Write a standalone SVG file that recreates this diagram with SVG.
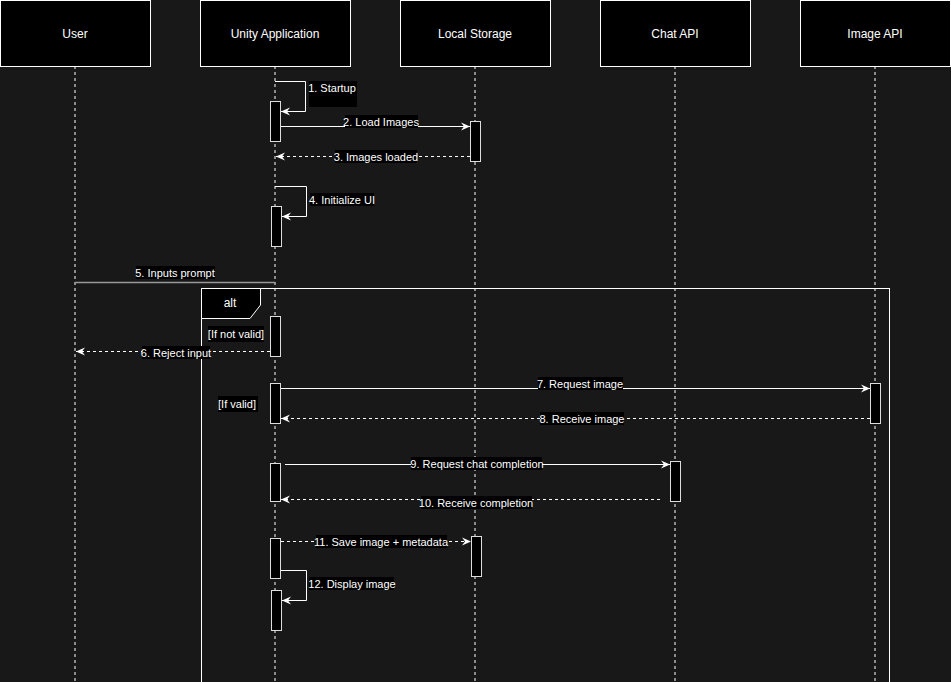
<svg xmlns="http://www.w3.org/2000/svg" width="951" height="682" viewBox="0 0 951 682">
<defs>
<style>
.h{fill:#000;stroke:#fff;stroke-width:1}
.ht{fill:#fff;font-family:"Liberation Sans",Arial,sans-serif;font-size:12px;text-anchor:middle}
.ll{stroke:#fff;stroke-dasharray:3,3;stroke-width:1}
.act{fill:#000;stroke:#ddd;stroke-width:1}
.m{fill:none;stroke:#fff;stroke-width:1;marker-end:url(#a)}
.d{stroke-dasharray:3,3}
.lb{fill:#fff;font-family:"Liberation Sans",Arial,sans-serif;font-size:11px;text-anchor:middle}
.bg{fill:#000}
</style>
<marker id="a" markerWidth="10" markerHeight="10" refX="9" refY="5" orient="auto" markerUnits="userSpaceOnUse"><path d="M0,1 L9,5 L0,9 L3,5 Z" fill="#fff"/></marker>
</defs>
<rect width="951" height="682" fill="#181818"/>
<g id="lifelines">
<line class="ll" x1="75" y1="66" x2="75" y2="682"/>
<line class="ll" x1="275" y1="66" x2="275" y2="682"/>
<line class="ll" x1="475" y1="66" x2="475" y2="682"/>
<line class="ll" x1="675" y1="66" x2="675" y2="682"/>
<line class="ll" x1="875" y1="66" x2="875" y2="682"/>
</g>
<g id="user"><rect class="h" x="0.5" y="0.5" width="150" height="66"/><text class="ht" x="75" y="38">User</text></g>
<g id="unity"><rect class="h" x="200.5" y="0.5" width="150" height="66"/><text class="ht" x="275" y="38">Unity Application</text></g>
<g id="storage"><rect class="h" x="400.5" y="0.5" width="150" height="66"/><text class="ht" x="475" y="38">Local Storage</text></g>
<g id="chat"><rect class="h" x="600.5" y="0.5" width="150" height="66"/><text class="ht" x="675" y="38">Chat API</text></g>
<g id="image"><rect class="h" x="800.5" y="0.5" width="150" height="66"/><text class="ht" x="875" y="38">Image API</text></g>
<g id="alt">
<rect x="201.5" y="288.5" width="688" height="400" fill="none" stroke="#fff"/>
<path d="M201.5,288.5 H260.5 V305 L250,318.5 H201.5 Z" fill="#000" stroke="#fff"/>
<text x="230" y="307" fill="#fff" font-family="Liberation Sans,Arial,sans-serif" font-size="12" text-anchor="middle">alt</text>
<rect class="bg" x="208" y="326" width="56" height="16"/><text class="lb" x="236" y="338">[If not valid]</text>
<rect class="bg" x="218" y="396" width="40" height="16"/><text class="lb" x="237" y="408">[If valid]</text>
</g>
<g id="activations">
<rect class="act" x="270.5" y="101.5" width="10" height="40"/>
<rect class="act" x="470.5" y="121.5" width="10" height="40"/>
<rect class="act" x="271.5" y="206.5" width="10" height="40"/>
<rect class="act" x="270.5" y="316.5" width="10" height="40"/>
<rect class="act" x="270.5" y="383.5" width="10" height="40"/>
<rect class="act" x="870.5" y="383.5" width="10" height="40"/>
<rect class="act" x="270.5" y="463.5" width="10" height="38"/>
<rect class="act" x="670.5" y="461.5" width="10" height="40"/>
<rect class="act" x="270.5" y="538.5" width="10" height="40"/>
<rect class="act" x="471.5" y="536.5" width="10" height="40"/>
<rect class="act" x="271.5" y="590.5" width="10" height="40"/>
</g>
<g id="connectors">
<path class="m" d="M275,81.5 H305.5 V111.5 H281"/>
<path class="m" d="M281,126.5 H470"/>
<path class="m d" d="M470,156.5 H276"/>
<path class="m" d="M275,186.5 H306.5 V216.5 H282"/>
<path d="M75,282.5 H275" stroke="#999" stroke-width="1.5" fill="none"/>
<path class="m d" d="M270,351.5 H76"/>
<path class="m" d="M281,388.5 H870"/>
<path class="m d" d="M870,418.5 H281"/>
<path class="m" d="M285,464.5 H670"/>
<path class="m d" d="M660,499.5 H281"/>
<path class="m d" d="M281,541.5 H471"/>
<path class="m" d="M281,570.5 H306.5 V600.5 H282"/>
</g>
<g id="labels">
<rect class="bg" x="309" y="81" width="48" height="26"/><text class="lb" x="332" y="92">1. Startup</text>
<rect class="bg" x="345" y="115" width="73" height="13"/><text class="lb" x="381" y="126">2. Load Images</text>
<rect class="bg" x="335" y="150" width="82" height="13"/><text class="lb" x="376" y="161">3. Images loaded</text>
<rect class="bg" x="310" y="193" width="64" height="13"/><text class="lb" x="342" y="204">4. Initialize UI</text>
<rect class="bg" x="136" y="266" width="79" height="13"/><text class="lb" x="175" y="277">5. Inputs prompt</text>
<rect class="bg" x="142" y="346" width="68" height="13"/><text class="lb" x="176" y="357">6. Reject input</text>
<rect class="bg" x="538" y="377" width="85" height="13"/><text class="lb" x="580" y="388">7. Request image</text>
<rect class="bg" x="540" y="412" width="84" height="13"/><text class="lb" x="582" y="423">8. Receive image</text>
<rect class="bg" x="411" y="457" width="131" height="13"/><text class="lb" x="477" y="468">9. Request chat completion</text>
<rect class="bg" x="421" y="496" width="111" height="13"/><text class="lb" x="476" y="507">10. Receive completion</text>
<rect class="bg" x="316" y="535" width="131" height="13"/><text class="lb" x="381" y="546">11. Save image + metadata</text>
<rect class="bg" x="309" y="577" width="85" height="13"/><text class="lb" x="352" y="588">12. Display image</text>
</g>
</svg>
